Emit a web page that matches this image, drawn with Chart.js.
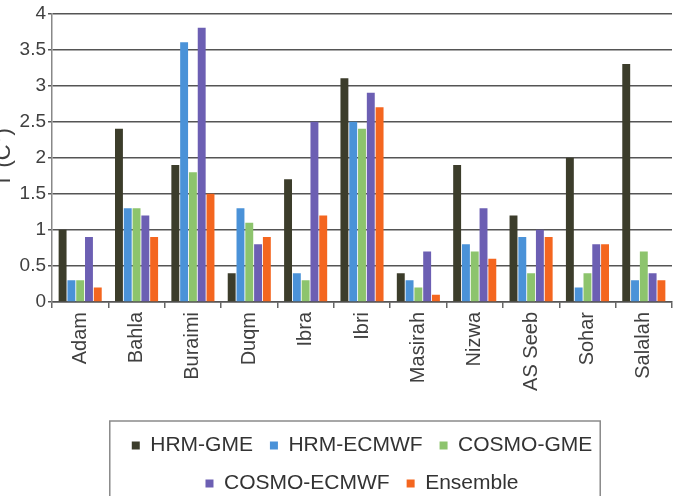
<!DOCTYPE html>
<html>
<head>
<meta charset="utf-8">
<script src="https://cdn.jsdelivr.net/npm/chart.js@4/dist/chart.umd.min.js"></script>
<style>
  html, body { margin: 0; padding: 0; background: #fff; }
  #wrap { width: 674px; height: 496px; }
</style>
</head>
<body>
<div id="wrap"><canvas id="tempChart"></canvas></div>
<script>
const stations = ['Adam', 'Bahla', 'Buraimi', 'Duqm', 'Ibra', 'Ibri', 'Masirah', 'Nizwa', 'AS Seeb', 'Sohar', 'Salalah'];

const hrmGme      = [1.0, 2.4, 1.9, 0.4, 1.7, 3.1, 0.4, 1.9, 1.2, 2.0, 3.3];
const hrmEcmwf    = [0.3, 1.3, 3.6, 1.3, 0.4, 2.5, 0.3, 0.8, 0.9, 0.2, 0.3];
const cosmoGme    = [0.3, 1.3, 1.8, 1.1, 0.3, 2.4, 0.2, 0.7, 0.4, 0.4, 0.7];
const cosmoEcmwf  = [0.9, 1.2, 3.8, 0.8, 2.5, 2.9, 0.7, 1.3, 1.0, 0.8, 0.4];
const ensemble    = [0.2, 0.9, 1.5, 0.9, 1.2, 2.7, 0.1, 0.6, 0.9, 0.8, 0.3];

const seriesNames = ['HRM-GME', 'HRM-ECMWF', 'COSMO-GME', 'COSMO-ECMWF', 'Ensemble'];

document.addEventListener('DOMContentLoaded', () => {
  const ctx = document.getElementById('tempChart').getContext('2d');
  const font = "'Liberation Sans', Arial, sans-serif";

  // frame around the legend, like the original figure
  const legendFrame = {
    id: 'legendFrame',
    afterDraw(chart) {
      const boxes = chart.legend && chart.legend.legendHitBoxes;
      if (!boxes || !boxes.length) return;
      const left = Math.min(...boxes.map(b => b.left)) - 22;
      const right = Math.max(...boxes.map(b => b.left + b.width)) + 8;
      const top = boxes[0].top - 14;
      const c = chart.ctx;
      c.save();
      c.strokeStyle = '#8a8a8a';
      c.lineWidth = 1.5;
      c.strokeRect(left, top, right - left, chart.height + 10 - top);
      c.restore();
    }
  };

  const colors = ['#3c3d2b', '#4a92d8', '#8dc46d', '#6c5fb3', '#f4661f'];
  const values = [hrmGme, hrmEcmwf, cosmoGme, cosmoEcmwf, ensemble];

  new Chart(ctx, {
    type: 'bar',
    data: {
      labels: stations,
      datasets: seriesNames.map((name, i) => ({
        label: name,
        data: values[i],
        backgroundColor: colors[i],
        borderWidth: 0,
        categoryPercentage: 0.78,
        barPercentage: 0.9
      }))
    },
    options: {
      responsive: true,
      maintainAspectRatio: false,
      animation: false,
      layout: { padding: { top: 12, left: 0, right: 2, bottom: -8 } },
      plugins: {
        tooltip: { enabled: false },
        legend: {
          position: 'bottom',
          fullSize: false,
          labels: {
            boxWidth: 8,
            boxHeight: 8,
            padding: 17,
            color: '#333',
            font: { family: font, size: 21 }
          }
        }
      },
      scales: {
        x: {
          afterFit: (s) => { s.height = 116; },
          ticks: {
            color: '#404040',
            font: { family: font, size: 20 },
            minRotation: 90,
            maxRotation: 90,
            padding: 4
          },
          grid: {
            display: true,
            drawOnChartArea: false,
            drawTicks: true,
            tickLength: 6,
            color: '#666',
            lineWidth: 1.5
          },
          border: { color: '#555', width: 1.5 }
        },
        y: {
          min: 0,
          max: 4,
          afterFit: (s) => { s.width = 52; },
          ticks: {
            stepSize: 0.5,
            color: '#404040',
            font: { family: font, size: 19 },
            padding: 2,
            callback: (v) => String(v)
          },
          grid: {
            display: true,
            color: '#555',
            lineWidth: 1.5,
            tickLength: 4
          },
          border: { color: '#888', width: 1.5 },
          title: {
            display: true,
            text: 'T (C°)',
            color: '#404040',
            font: { family: font, size: 22 },
            padding: { top: -9, bottom: 0 }
          }
        }
      }
    },
    plugins: [legendFrame]
  });
});
</script>
</body>
</html>
